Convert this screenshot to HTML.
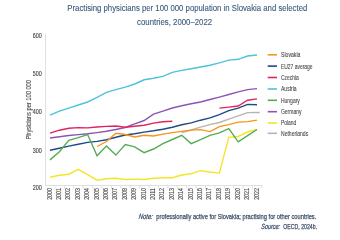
<!DOCTYPE html>
<html><head><meta charset="utf-8"><style>
html,body{margin:0;padding:0;background:#fff;width:340px;height:235px;overflow:hidden;font-family:"Liberation Sans", sans-serif;}
</style></head><body>
<svg width="340" height="235" viewBox="0 0 340 235" style="display:block;will-change:transform;font-family:&quot;Liberation Sans&quot;, sans-serif"><polyline points="181.74,132.50 191.15,130.00 200.56,127.10 209.97,124.60 219.38,122.50 228.79,119.10 238.20,115.90 247.61,112.60 257.02,112.50 259.7,112.5" fill="none" stroke="#b5b5b5" stroke-width="1.4" stroke-linejoin="miter" stroke-miterlimit="10" stroke-linecap="butt"/><polyline points="50.00,177.30 59.41,175.20 68.82,174.20 78.23,169.40 87.64,174.70 97.05,180.20 106.46,178.80 115.87,178.20 125.28,179.50 134.69,179.10 144.10,179.50 153.51,178.20 162.92,177.70 172.33,177.70 181.74,175.00 191.15,173.80 200.56,170.60 209.97,172.00 219.38,173.10 228.79,137.30 238.20,136.50 247.61,132.00 257.02,129.50" fill="none" stroke="#f5e526" stroke-width="1.4" stroke-linejoin="miter" stroke-miterlimit="10" stroke-linecap="butt"/><polyline points="50.00,150.30 59.41,148.20 68.82,146.10 78.23,144.20 87.64,142.40 97.05,141.40 106.46,139.70 115.87,137.20 125.28,135.00 134.69,133.80 144.10,132.10 153.51,130.80 162.92,129.20 172.33,127.30 181.74,124.80 191.15,122.90 200.56,120.20 209.97,117.90 219.38,114.60 228.79,110.60 238.20,108.10 247.61,104.40 257.02,104.80" fill="none" stroke="#1f4a86" stroke-width="1.4" stroke-linejoin="miter" stroke-miterlimit="10" stroke-linecap="butt"/><polyline points="50.00,138.00 59.41,136.80 68.82,135.50 78.23,134.60 87.64,133.80 97.05,132.60 106.46,131.30 115.87,129.50 125.28,127.50 134.69,123.80 144.10,120.50 153.51,114.20 162.92,111.20 172.33,108.00 181.74,105.70 191.15,103.80 200.56,102.00 209.97,99.50 219.38,97.10 228.79,94.50 238.20,91.90 247.61,89.60 257.02,88.60" fill="none" stroke="#8a55b5" stroke-width="1.4" stroke-linejoin="miter" stroke-miterlimit="10" stroke-linecap="butt"/><polyline points="50.00,133.20 59.41,130.20 68.82,128.30 78.23,127.60 87.64,127.90 97.05,127.00 106.46,126.40 115.87,126.00 125.28,127.30 134.69,126.30 144.10,125.20 153.51,123.10 162.92,121.70 172.33,121.20" fill="none" stroke="#e2245c" stroke-width="1.4" stroke-linejoin="miter" stroke-miterlimit="10" stroke-linecap="butt"/><polyline points="219.38,108.10 228.79,107.10 238.20,106.00 247.61,100.20 257.02,98.90" fill="none" stroke="#e2245c" stroke-width="1.4" stroke-linejoin="miter" stroke-miterlimit="10" stroke-linecap="butt"/><polyline points="50.00,115.20 59.41,111.20 68.82,108.20 78.23,105.00 87.64,102.00 97.05,97.40 106.46,92.30 115.87,89.60 125.28,87.10 134.69,84.00 144.10,79.80 153.51,78.30 162.92,76.40 172.33,72.30 181.74,70.40 191.15,68.70 200.56,67.00 209.97,65.30 219.38,62.90 228.79,60.10 238.20,59.30 247.61,56.00 257.02,55.00" fill="none" stroke="#4ec2db" stroke-width="1.4" stroke-linejoin="miter" stroke-miterlimit="10" stroke-linecap="butt"/><polyline points="50.00,159.90 59.41,151.70 68.82,140.30 78.23,137.60 87.64,134.50 97.05,155.80 106.46,146.00 115.87,155.10 125.28,144.50 134.69,146.90 144.10,152.70 153.51,149.00 162.92,143.70 172.33,139.50 181.74,135.30 191.15,143.60 200.56,139.70 209.97,135.40 219.38,132.80 228.79,128.70 238.20,141.80 247.61,135.60 257.02,129.50" fill="none" stroke="#55ac55" stroke-width="1.4" stroke-linejoin="miter" stroke-miterlimit="10" stroke-linecap="butt"/><polyline points="97.05,146.50 106.46,141.50 115.87,133.20 125.28,134.50 134.69,137.00 144.10,135.30 153.51,136.00 162.92,134.10 172.33,132.60 181.74,131.40 191.15,130.10 200.56,129.60 209.97,131.60 219.38,126.60 228.79,124.60 238.20,122.10 247.61,121.60 257.02,120.10" fill="none" stroke="#f7941d" stroke-width="1.4" stroke-linejoin="miter" stroke-miterlimit="10" stroke-linecap="butt"/>
<text x="67.3" y="11.2" font-size="9.6" fill="#3a5a7e" text-anchor="start" textLength="240" lengthAdjust="spacingAndGlyphs" stroke="#3a5a7e" stroke-width="0.12">Practising physicians per 100 000 population in Slovakia and selected</text>
<text x="137.1" y="24.6" font-size="9.6" fill="#3a5a7e" text-anchor="start" textLength="75" lengthAdjust="spacingAndGlyphs" stroke="#3a5a7e" stroke-width="0.12">countries, 2000–2022</text>
<line x1="45.5" y1="33.5" x2="45.5" y2="185.5" stroke="#e0e0e0" stroke-width="1"/>
<line x1="45" y1="185.5" x2="262" y2="185.5" stroke="#e0e0e0" stroke-width="1"/>
<line x1="54.91" y1="185" x2="54.91" y2="188.5" stroke="#e0e0e0" stroke-width="1"/>
<line x1="64.32" y1="185" x2="64.32" y2="188.5" stroke="#e0e0e0" stroke-width="1"/>
<line x1="73.73" y1="185" x2="73.73" y2="188.5" stroke="#e0e0e0" stroke-width="1"/>
<line x1="83.14" y1="185" x2="83.14" y2="188.5" stroke="#e0e0e0" stroke-width="1"/>
<line x1="92.55" y1="185" x2="92.55" y2="188.5" stroke="#e0e0e0" stroke-width="1"/>
<line x1="101.96" y1="185" x2="101.96" y2="188.5" stroke="#e0e0e0" stroke-width="1"/>
<line x1="111.37" y1="185" x2="111.37" y2="188.5" stroke="#e0e0e0" stroke-width="1"/>
<line x1="120.78" y1="185" x2="120.78" y2="188.5" stroke="#e0e0e0" stroke-width="1"/>
<line x1="130.19" y1="185" x2="130.19" y2="188.5" stroke="#e0e0e0" stroke-width="1"/>
<line x1="139.60" y1="185" x2="139.60" y2="188.5" stroke="#e0e0e0" stroke-width="1"/>
<line x1="149.01" y1="185" x2="149.01" y2="188.5" stroke="#e0e0e0" stroke-width="1"/>
<line x1="158.42" y1="185" x2="158.42" y2="188.5" stroke="#e0e0e0" stroke-width="1"/>
<line x1="167.83" y1="185" x2="167.83" y2="188.5" stroke="#e0e0e0" stroke-width="1"/>
<line x1="177.24" y1="185" x2="177.24" y2="188.5" stroke="#e0e0e0" stroke-width="1"/>
<line x1="186.65" y1="185" x2="186.65" y2="188.5" stroke="#e0e0e0" stroke-width="1"/>
<line x1="196.06" y1="185" x2="196.06" y2="188.5" stroke="#e0e0e0" stroke-width="1"/>
<line x1="205.47" y1="185" x2="205.47" y2="188.5" stroke="#e0e0e0" stroke-width="1"/>
<line x1="214.88" y1="185" x2="214.88" y2="188.5" stroke="#e0e0e0" stroke-width="1"/>
<line x1="224.29" y1="185" x2="224.29" y2="188.5" stroke="#e0e0e0" stroke-width="1"/>
<line x1="233.70" y1="185" x2="233.70" y2="188.5" stroke="#e0e0e0" stroke-width="1"/>
<line x1="243.11" y1="185" x2="243.11" y2="188.5" stroke="#e0e0e0" stroke-width="1"/>
<line x1="252.52" y1="185" x2="252.52" y2="188.5" stroke="#e0e0e0" stroke-width="1"/>
<line x1="261.93" y1="185" x2="261.93" y2="188.5" stroke="#e0e0e0" stroke-width="1"/>
<text x="41.8" y="38.4" font-size="7" fill="#474747" text-anchor="end" textLength="9.0" lengthAdjust="spacingAndGlyphs" stroke="#474747" stroke-width="0.15">600</text>
<text x="41.8" y="76.19999999999999" font-size="7" fill="#474747" text-anchor="end" textLength="9.0" lengthAdjust="spacingAndGlyphs" stroke="#474747" stroke-width="0.15">500</text>
<text x="41.8" y="114.0" font-size="7" fill="#474747" text-anchor="end" textLength="9.0" lengthAdjust="spacingAndGlyphs" stroke="#474747" stroke-width="0.15">400</text>
<text x="41.8" y="152.6" font-size="7" fill="#474747" text-anchor="end" textLength="9.0" lengthAdjust="spacingAndGlyphs" stroke="#474747" stroke-width="0.15">300</text>
<text x="41.8" y="190.2" font-size="7" fill="#474747" text-anchor="end" textLength="9.0" lengthAdjust="spacingAndGlyphs" stroke="#474747" stroke-width="0.15">200</text>
<text transform="translate(30.9,139.5) rotate(-90)" x="0" y="0" font-size="7" fill="#474747" stroke="#444" stroke-width="0.1" textLength="59.5" lengthAdjust="spacingAndGlyphs">Physicians per 100 000</text>
<text transform="translate(51.50,199.8) rotate(-90)" x="0" y="0" font-size="6.4" fill="#474747" stroke="#444" stroke-width="0.12" textLength="11.6" lengthAdjust="spacingAndGlyphs">2000</text>
<text transform="translate(60.91,199.8) rotate(-90)" x="0" y="0" font-size="6.4" fill="#474747" stroke="#444" stroke-width="0.12" textLength="11.6" lengthAdjust="spacingAndGlyphs">2001</text>
<text transform="translate(70.32,199.8) rotate(-90)" x="0" y="0" font-size="6.4" fill="#474747" stroke="#444" stroke-width="0.12" textLength="11.6" lengthAdjust="spacingAndGlyphs">2002</text>
<text transform="translate(79.73,199.8) rotate(-90)" x="0" y="0" font-size="6.4" fill="#474747" stroke="#444" stroke-width="0.12" textLength="11.6" lengthAdjust="spacingAndGlyphs">2003</text>
<text transform="translate(89.14,199.8) rotate(-90)" x="0" y="0" font-size="6.4" fill="#474747" stroke="#444" stroke-width="0.12" textLength="11.6" lengthAdjust="spacingAndGlyphs">2004</text>
<text transform="translate(98.55,199.8) rotate(-90)" x="0" y="0" font-size="6.4" fill="#474747" stroke="#444" stroke-width="0.12" textLength="11.6" lengthAdjust="spacingAndGlyphs">2005</text>
<text transform="translate(107.96,199.8) rotate(-90)" x="0" y="0" font-size="6.4" fill="#474747" stroke="#444" stroke-width="0.12" textLength="11.6" lengthAdjust="spacingAndGlyphs">2006</text>
<text transform="translate(117.37,199.8) rotate(-90)" x="0" y="0" font-size="6.4" fill="#474747" stroke="#444" stroke-width="0.12" textLength="11.6" lengthAdjust="spacingAndGlyphs">2007</text>
<text transform="translate(126.78,199.8) rotate(-90)" x="0" y="0" font-size="6.4" fill="#474747" stroke="#444" stroke-width="0.12" textLength="11.6" lengthAdjust="spacingAndGlyphs">2008</text>
<text transform="translate(136.19,199.8) rotate(-90)" x="0" y="0" font-size="6.4" fill="#474747" stroke="#444" stroke-width="0.12" textLength="11.6" lengthAdjust="spacingAndGlyphs">2009</text>
<text transform="translate(145.60,199.8) rotate(-90)" x="0" y="0" font-size="6.4" fill="#474747" stroke="#444" stroke-width="0.12" textLength="11.6" lengthAdjust="spacingAndGlyphs">2010</text>
<text transform="translate(155.01,199.8) rotate(-90)" x="0" y="0" font-size="6.4" fill="#474747" stroke="#444" stroke-width="0.12" textLength="11.6" lengthAdjust="spacingAndGlyphs">2011</text>
<text transform="translate(164.42,199.8) rotate(-90)" x="0" y="0" font-size="6.4" fill="#474747" stroke="#444" stroke-width="0.12" textLength="11.6" lengthAdjust="spacingAndGlyphs">2012</text>
<text transform="translate(173.83,199.8) rotate(-90)" x="0" y="0" font-size="6.4" fill="#474747" stroke="#444" stroke-width="0.12" textLength="11.6" lengthAdjust="spacingAndGlyphs">2013</text>
<text transform="translate(183.24,199.8) rotate(-90)" x="0" y="0" font-size="6.4" fill="#474747" stroke="#444" stroke-width="0.12" textLength="11.6" lengthAdjust="spacingAndGlyphs">2014</text>
<text transform="translate(192.65,199.8) rotate(-90)" x="0" y="0" font-size="6.4" fill="#474747" stroke="#444" stroke-width="0.12" textLength="11.6" lengthAdjust="spacingAndGlyphs">2015</text>
<text transform="translate(202.06,199.8) rotate(-90)" x="0" y="0" font-size="6.4" fill="#474747" stroke="#444" stroke-width="0.12" textLength="11.6" lengthAdjust="spacingAndGlyphs">2016</text>
<text transform="translate(211.47,199.8) rotate(-90)" x="0" y="0" font-size="6.4" fill="#474747" stroke="#444" stroke-width="0.12" textLength="11.6" lengthAdjust="spacingAndGlyphs">2017</text>
<text transform="translate(220.88,199.8) rotate(-90)" x="0" y="0" font-size="6.4" fill="#474747" stroke="#444" stroke-width="0.12" textLength="11.6" lengthAdjust="spacingAndGlyphs">2018</text>
<text transform="translate(230.29,199.8) rotate(-90)" x="0" y="0" font-size="6.4" fill="#474747" stroke="#444" stroke-width="0.12" textLength="11.6" lengthAdjust="spacingAndGlyphs">2019</text>
<text transform="translate(239.70,199.8) rotate(-90)" x="0" y="0" font-size="6.4" fill="#474747" stroke="#444" stroke-width="0.12" textLength="11.6" lengthAdjust="spacingAndGlyphs">2020</text>
<text transform="translate(249.11,199.8) rotate(-90)" x="0" y="0" font-size="6.4" fill="#474747" stroke="#444" stroke-width="0.12" textLength="11.6" lengthAdjust="spacingAndGlyphs">2021</text>
<text transform="translate(258.52,199.8) rotate(-90)" x="0" y="0" font-size="6.4" fill="#474747" stroke="#444" stroke-width="0.12" textLength="11.6" lengthAdjust="spacingAndGlyphs">2022</text>
<line x1="267.7" y1="54.80" x2="277" y2="54.80" stroke="#f7941d" stroke-width="1.6"/>
<text x="281" y="57.199999999999996" font-size="7.2" fill="#474747" text-anchor="start" textLength="19.4" lengthAdjust="spacingAndGlyphs" stroke="#474747" stroke-width="0.1">Slovakia</text>
<line x1="267.7" y1="66.10" x2="277" y2="66.10" stroke="#1f4a86" stroke-width="1.6"/>
<text x="281" y="68.5" font-size="7.2" fill="#474747" text-anchor="start" textLength="31.6" lengthAdjust="spacingAndGlyphs" stroke="#474747" stroke-width="0.1">EU27 average</text>
<line x1="267.7" y1="77.50" x2="277" y2="77.50" stroke="#e2245c" stroke-width="1.6"/>
<text x="281" y="79.9" font-size="7.2" fill="#474747" text-anchor="start" textLength="17.8" lengthAdjust="spacingAndGlyphs" stroke="#474747" stroke-width="0.1">Czechia</text>
<line x1="267.7" y1="89.00" x2="277" y2="89.00" stroke="#4ec2db" stroke-width="1.6"/>
<text x="281" y="91.4" font-size="7.2" fill="#474747" text-anchor="start" textLength="15.6" lengthAdjust="spacingAndGlyphs" stroke="#474747" stroke-width="0.1">Austria</text>
<line x1="267.7" y1="100.30" x2="277" y2="100.30" stroke="#55ac55" stroke-width="1.6"/>
<text x="281" y="102.7" font-size="7.2" fill="#474747" text-anchor="start" textLength="18.8" lengthAdjust="spacingAndGlyphs" stroke="#474747" stroke-width="0.1">Hungary</text>
<line x1="267.7" y1="111.70" x2="277" y2="111.70" stroke="#8a55b5" stroke-width="1.6"/>
<text x="281" y="114.10000000000001" font-size="7.2" fill="#474747" text-anchor="start" textLength="20.4" lengthAdjust="spacingAndGlyphs" stroke="#474747" stroke-width="0.1">Germany</text>
<line x1="267.7" y1="123.00" x2="277" y2="123.00" stroke="#f5e526" stroke-width="1.6"/>
<text x="281" y="125.4" font-size="7.2" fill="#474747" text-anchor="start" textLength="15.3" lengthAdjust="spacingAndGlyphs" stroke="#474747" stroke-width="0.1">Poland</text>
<line x1="267.7" y1="133.30" x2="277" y2="133.30" stroke="#b5b5b5" stroke-width="1.6"/>
<text x="281" y="135.70000000000002" font-size="7.2" fill="#474747" text-anchor="start" textLength="27.2" lengthAdjust="spacingAndGlyphs" stroke="#474747" stroke-width="0.1">Netherlands</text>
<text transform="translate(138.60000000000002,218.5) skewX(-7)" x="0" y="0" font-size="7.6" fill="#3a4d66" stroke="#3a4d66" stroke-width="0.25" font-style="italic" textLength="13.9" lengthAdjust="spacingAndGlyphs">Note:</text>
<text x="156.3" y="218.5" font-size="7.6" fill="#3a4d66" stroke="#3a4d66" stroke-width="0.25" textLength="160.0" lengthAdjust="spacingAndGlyphs">professionally active for Slovakia; practising for other countries.</text>
<text transform="translate(261.0,229.0) skewX(-7)" x="0" y="0" font-size="7.6" fill="#3a4d66" stroke="#3a4d66" stroke-width="0.25" font-style="italic" textLength="18.8" lengthAdjust="spacingAndGlyphs">Source:</text>
<text x="283.3" y="229.0" font-size="7.6" fill="#3a4d66" stroke="#3a4d66" stroke-width="0.25" textLength="33.8" lengthAdjust="spacingAndGlyphs">OECD, 2024b.</text></svg>
</body></html>
